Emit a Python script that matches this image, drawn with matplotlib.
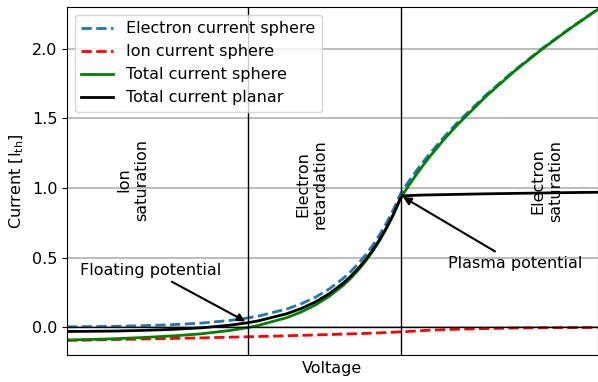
import matplotlib
matplotlib.use("Agg")
import matplotlib.pyplot as plt
import numpy as np

# probe voltage (normalised, plasma potential at 0)
voltage = [-5.85, -5.5, -5.0, -4.5, -4.0, -3.5, -3.0, -2.68, -2.5, -2.0, -1.75,
           -1.5, -1.25, -1.0, -0.875, -0.75, -0.625, -0.5, -0.375, -0.25, -0.125, 0.0,
           0.0625, 0.125, 0.25, 0.375, 0.5, 0.75, 1.0, 1.5, 2.0, 2.5, 3.0, 3.45]

electron_sphere = [0.003, 0.004, 0.006, 0.011, 0.018, 0.029, 0.048, 0.066, 0.079,
                   0.130, 0.167, 0.214, 0.275, 0.353, 0.400, 0.454, 0.514, 0.582,
                   0.660, 0.748, 0.847, 0.960,
                   1.000, 1.038, 1.110, 1.178, 1.242, 1.362, 1.472, 1.670, 1.847,
                   2.008, 2.157, 2.283]

ion_sphere = [-0.095, -0.093, -0.089, -0.085, -0.081, -0.077, -0.072, -0.069, -0.067,
              -0.062, -0.059, -0.056, -0.053, -0.050, -0.048, -0.047, -0.045, -0.043,
              -0.041, -0.039, -0.036, -0.034,
              -0.032, -0.031, -0.028, -0.025, -0.022, -0.018, -0.015, -0.010, -0.006,
              -0.004, -0.003, -0.002]

total_planar = [-0.031, -0.030, -0.028, -0.023, -0.016, -0.005, 0.014, 0.032, 0.045,
                0.096, 0.133, 0.180, 0.241, 0.319, 0.366, 0.420, 0.480, 0.548,
                0.626, 0.714, 0.813, 0.930,
                0.944, 0.945, 0.947, 0.949, 0.950, 0.952, 0.954, 0.958, 0.961,
                0.964, 0.967, 0.969]

v_float = -2.68
v_plasma = 0.0

total_sphere = np.array(electron_sphere) + np.array(ion_sphere)

fs = 11.5

fig = plt.figure(figsize=(5.98, 3.82), dpi=100)
ax = fig.add_subplot(1, 1, 1)
fig.subplots_adjust(left=67/598, right=597.5/598, top=1-7/382, bottom=1-355/382)

ax.plot(voltage, electron_sphere, '--', color='C0', lw=2, label='Electron current sphere')
ax.plot(voltage, ion_sphere, 'r--', lw=2, label='Ion current sphere')
ax.plot(voltage, total_sphere, 'g', lw=2, label='Total current sphere')
ax.plot(voltage, total_planar, 'k', lw=2, label='Total current planar')

ax.axhline(0, color='k', lw=1)
ax.axvline(v_float, color='k', lw=1)
ax.axvline(v_plasma, color='k', lw=1)

ax.annotate('Floating potential', xy=(v_float, 0.032), xytext=(-4.39, 0.41),
            ha='center', va='center', fontsize=fs,
            arrowprops=dict(arrowstyle='-|>', color='k', lw=1.5))
ax.annotate('Plasma potential', xy=(v_plasma, 0.945), xytext=(2.0, 0.46),
            ha='center', va='center', fontsize=fs,
            arrowprops=dict(arrowstyle='-|>', color='k', lw=1.5))

ax.text(-4.70, 1.06, 'Ion\nsaturation', rotation=90, ha='center', va='center',
        multialignment='center', fontsize=fs)
ax.text(-1.56, 1.03, 'Electron\nretardation', rotation=90, ha='center', va='center',
        multialignment='center', fontsize=fs)
ax.text(2.56, 1.05, 'Electron\nsaturation', rotation=90, ha='center', va='center',
        multialignment='center', fontsize=fs)

ax.set_xlim(-5.85, 3.45)
ax.set_ylim(-0.2, 2.3)
ax.set_xticks([])
ax.set_yticks([0.0, 0.5, 1.0, 1.5, 2.0])
ax.tick_params(labelsize=fs)
ax.yaxis.grid(True, color='#b0b0b0', lw=1.2)
ax.set_xlabel('Voltage', fontsize=fs)
ax.set_ylabel('Current [I$_{\\mathrm{th}}$]', fontsize=fs)
ax.legend(loc='upper left', fontsize=fs)

fig.savefig('out.png', dpi=100)
